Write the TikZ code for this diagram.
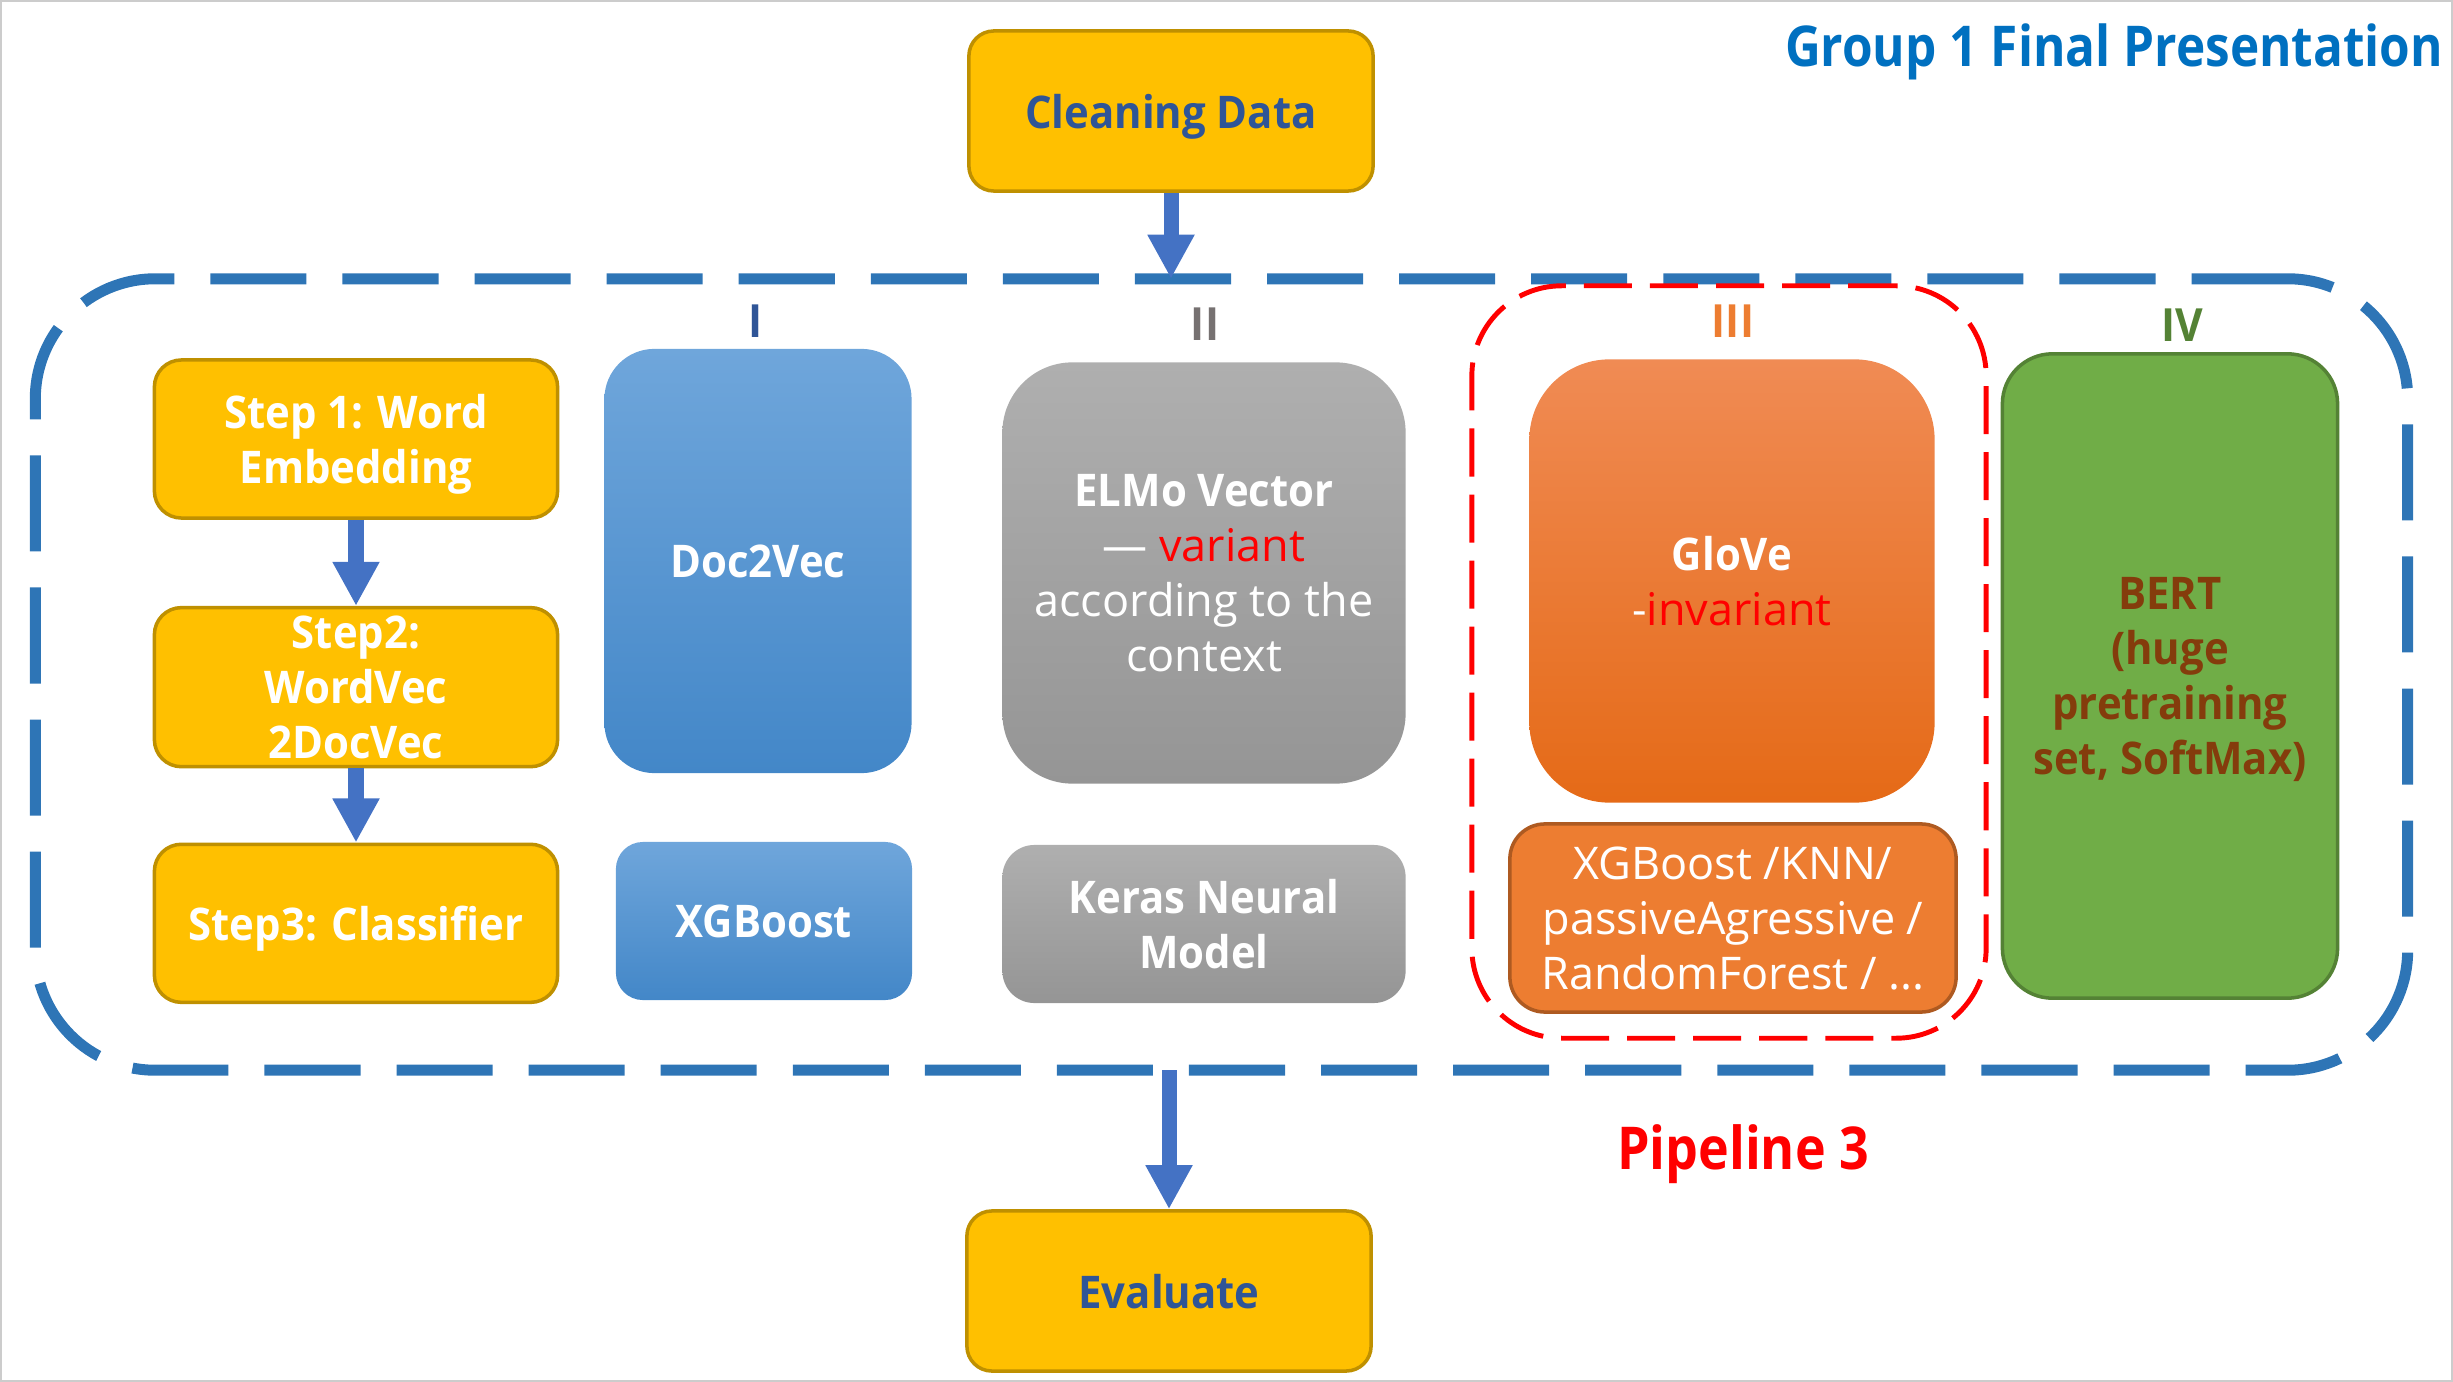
\documentclass[tikz,border=0pt]{standalone}
\usepackage{fontspec}
\setmainfont{Open Sans}[BoldFeatures={FakeStretch=0.93}]
\newfontfamily\narrowfont[FakeStretch=0.88]{Open Sans}
\usetikzlibrary{positioning, arrows.meta}

\definecolor{ppyellow}{HTML}{FFC000}
\definecolor{ppgold}{HTML}{BF9000}
\definecolor{ppnavy}{HTML}{2F5597}
\definecolor{pptitle}{HTML}{0070C0}
\definecolor{ppdash}{HTML}{2E75B6}
\definecolor{pparrow}{HTML}{4472C4}
\definecolor{ppgrey}{HTML}{767171}
\definecolor{pporange}{HTML}{ED7D31}
\definecolor{pporangeline}{HTML}{AE5A21}
\definecolor{ppgreen}{HTML}{70AD47}
\definecolor{ppgreenline}{HTML}{548235}
\definecolor{ppbrown}{HTML}{843C0C}

\begin{document}
\begin{tikzpicture}[
      x=0.01cm, y=-0.01cm,
      node distance=0.8cm,
      box/.style={rectangle, align=center, inner sep=2pt, text depth=0pt,
      font=\fontsize{12.8}{15.6}\selectfont},
      yellowbox/.style={box, draw=ppgold, fill=ppyellow, line width=1pt,
      minimum width=4.03cm, minimum height=1.58cm},
      stepbox/.style={yellowbox, rounded corners=0.27cm, text=white,
      font=\fontsize{12.8}{15.6}\selectfont\bfseries},
      endbox/.style={yellowbox, rounded corners=0.25cm, text=ppnavy,
      font=\fontsize{12.8}{15.6}\selectfont\bfseries},
      bluebox/.style={box, draw=none,
      top color={rgb,255:red,111;green,166;blue,219},
      bottom color={rgb,255:red,67;green,135;blue,200}, text=white,
      font=\fontsize{12.8}{15.6}\selectfont\bfseries},
      greybox/.style={box, draw=none,
      top color={rgb,255:red,175;green,175;blue,175},
      bottom color={rgb,255:red,149;green,149;blue,149}, text=white},
      collabel/.style={font=\fontsize{13}{15}\selectfont\bfseries, inner sep=1pt},
      pipe/.style={rectangle, draw=ppdash, line width=0.11cm, outer sep=0pt,
      dash pattern=on 0.96cm off 0.36cm, rounded corners=1.2cm},
      pickbox/.style={rectangle, draw=red, line width=1.4pt, outer sep=0pt,
      dash pattern=on 0.48cm off 0.18cm, rounded corners=0.9cm},
      flow/.style={draw=pparrow, line width=0.15cm,
      -{Triangle[width=0.44cm, length=0.44cm]}}
    ]
    \useasboundingbox (0,0) rectangle (2453,1382);
    \draw[gray!40, line width=0.7pt] (1,1) rectangle (2452,1381);

    \node [pipe, minimum width=23.71cm, minimum height=7.91cm] (pipe)
    at (1221.5,674.5) {};
    \node [pickbox, minimum width=5.14cm, minimum height=7.52cm] (pick)
    at (1729,662) {};

    \node [font=\narrowfont\fontsize{16}{19}\selectfont\bfseries,
    text=pptitle] (title) at (2114,52) {Group 1 Final Presentation};
    \node [endbox, minimum width=4.04cm, minimum height=1.60cm] (clean)
    at (1171,111) {Cleaning Data};

    % left column: the three steps
    \node [stepbox] (step1) at (356,439) {Step 1: Word\\Embedding};
    \node [stepbox, minimum height=1.59cm, below=0.86cm of step1] (step2)
    {Step2:\\WordVec\\2DocVec};
    \node [stepbox, below=0.74cm of step2] (step3) {Step3: Classifier};

    % pipeline I
    \node [collabel, text=ppnavy] (lab1) at (756,321) {I};
    \node [bluebox, rounded corners=0.5cm, minimum width=3.07cm,
    minimum height=4.24cm] (doc) at (758,561) {Doc2Vec};
    \node [bluebox, rounded corners=0.27cm, minimum width=2.96cm,
    minimum height=1.58cm] (xgb) at (764,921) {XGBoost};

    % pipeline II
    \node [collabel, text=ppgrey] (lab2) at (1205,324) {II};
    \node [greybox, rounded corners=0.7cm, minimum width=4.03cm,
    minimum height=4.21cm] (elmo) at (1204,573)
    {\textbf{ELMo Vector}\\— \textcolor{red}{variant}\\according to the\\context};
    \node [greybox, rounded corners=0.32cm, minimum width=4.03cm,
    minimum height=1.58cm, font=\fontsize{12.8}{15.6}\selectfont\bfseries]
    (keras) at (1204,924) {Keras Neural\\Model};

    % pipeline III
    \node [collabel, text=pporange] (lab3) at (1733,321) {III};
    \node [box, draw=none, rounded corners=0.8cm, minimum width=4.05cm,
    minimum height=4.43cm, text=white,
    top color={rgb,255:red,240;green,139;blue,84},
    bottom color={rgb,255:red,229;green,106;blue,23}] (glove) at (1732,581)
    {\textbf{GloVe}\\-\textcolor{red}{invariant}};
    \node [box, draw=pporangeline, fill=pporange, line width=1pt,
    rounded corners=0.35cm, minimum width=4.46cm, minimum height=1.88cm,
    text=white] (clf3) at (1733,918)
    {XGBoost /KNN/\\passiveAgressive /\\RandomForest / ...};

    % pipeline IV
    \node [collabel, text=ppgreenline] (lab4) at (2182,325) {IV};
    \node [box, draw=ppgreenline, fill=ppgreen, line width=1pt,
    rounded corners=0.5cm, minimum width=3.35cm, minimum height=6.44cm,
    text=ppbrown, font=\fontsize{12.8}{15.6}\selectfont\bfseries] (bert)
    at (2170,676) {BERT\\(huge\\pretraining\\set, SoftMax)};

    \node [endbox, minimum width=4.04cm, minimum height=1.60cm] (eval)
    at (1169,1291) {Evaluate};
    \node [font=\narrowfont\fontsize{16.8}{20}\selectfont\bfseries, text=red]
    (pipelabel) at (1743,1154) {Pipeline 3};

    \path [flow] (clean) -- (clean.south |- pipe.north);
    \path [flow] (step1) -- (step2);
    \path [flow] (step2) -- (step3);
    \path [flow] (eval.north |- pipe.south) -- (eval);
  \end{tikzpicture}
\end{document}
